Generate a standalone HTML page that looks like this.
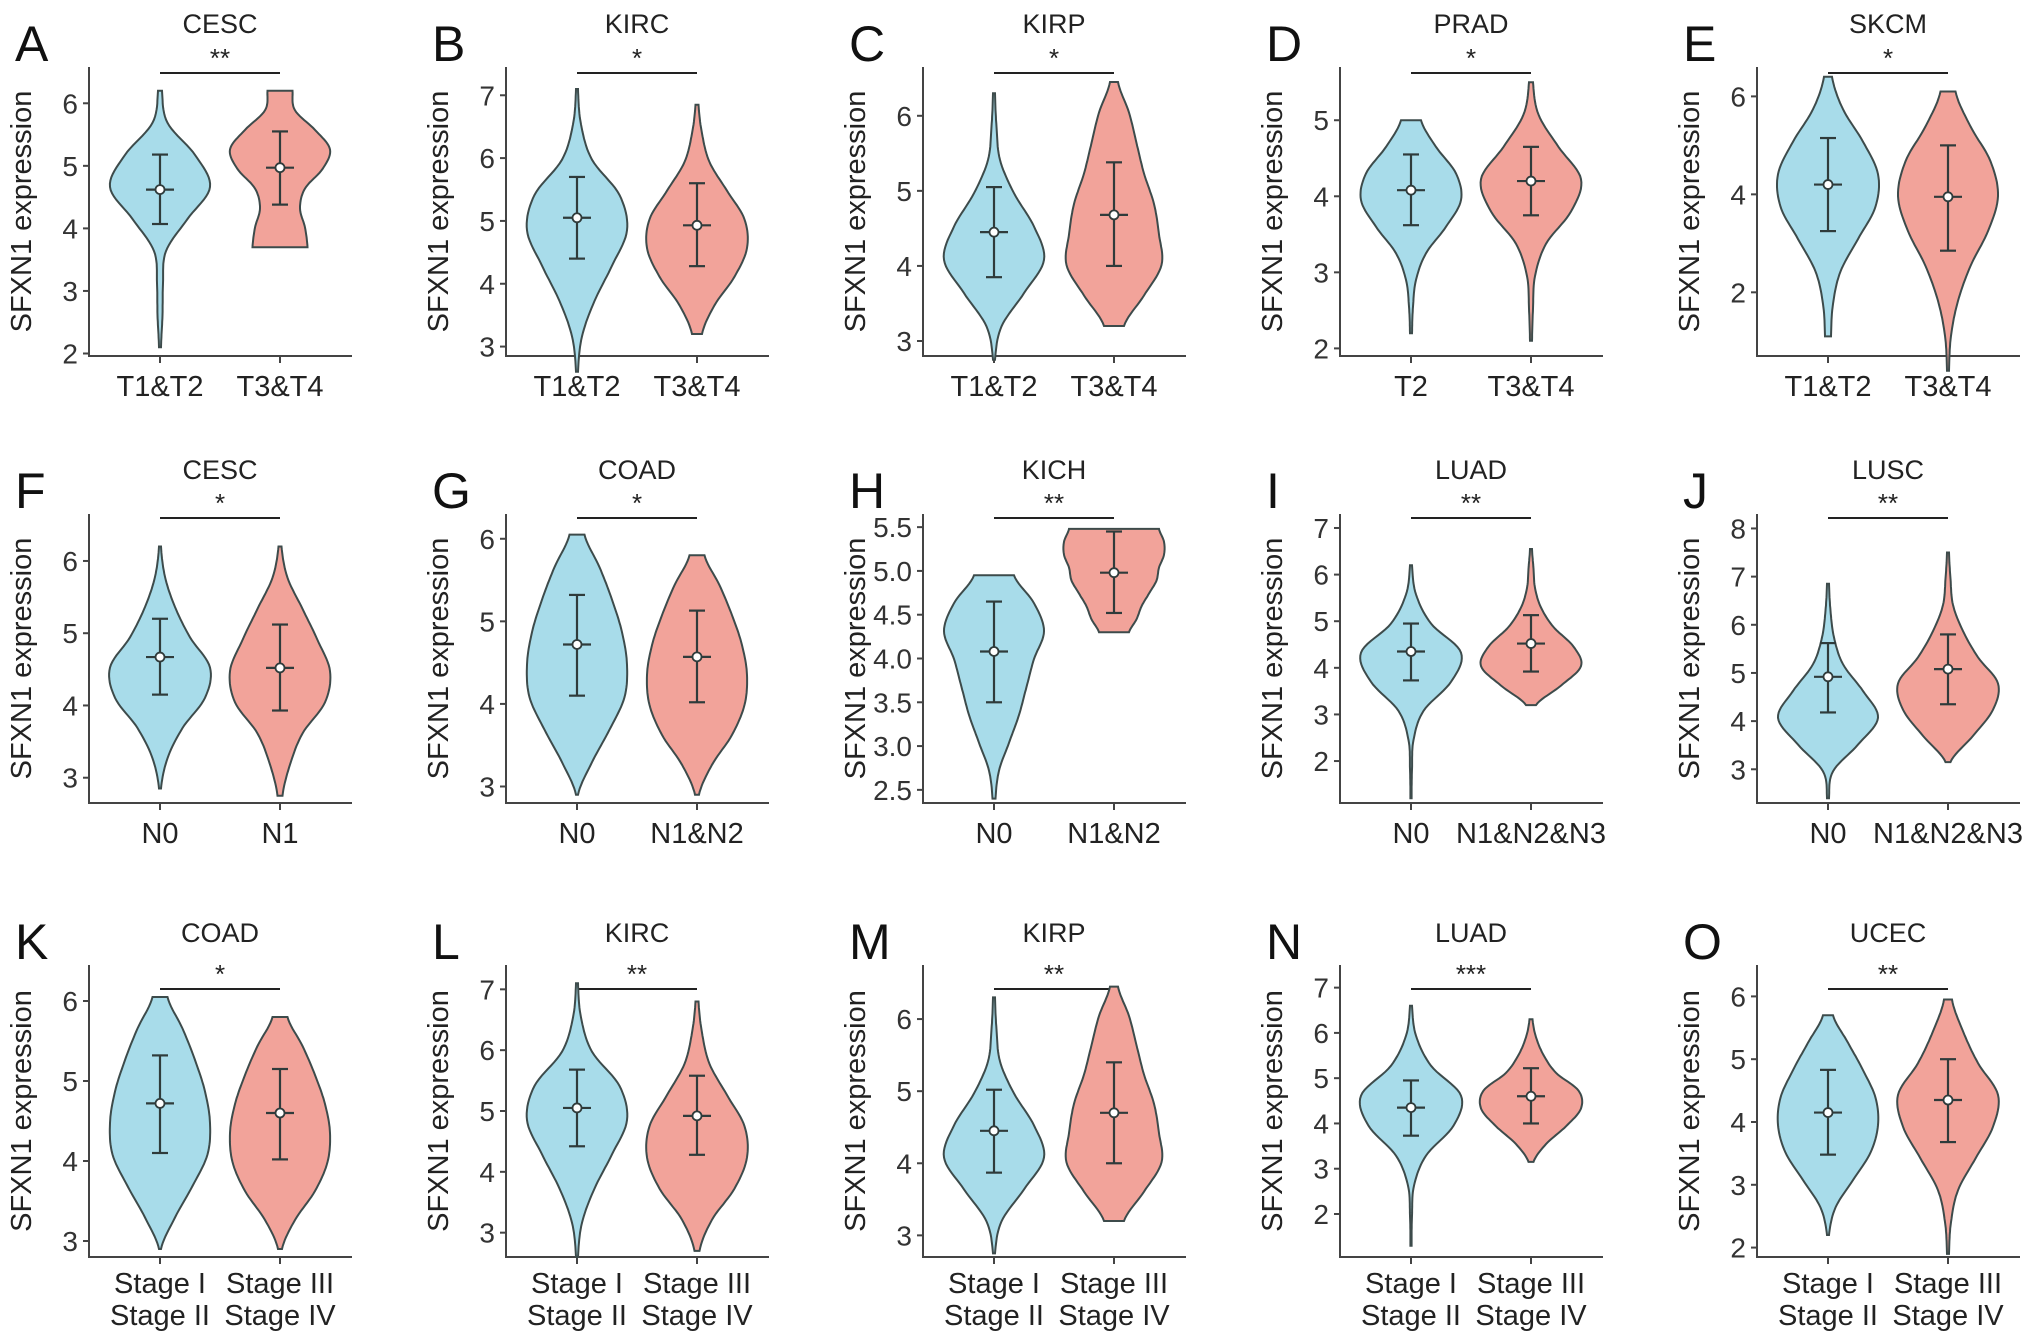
<!DOCTYPE html>
<html><head><meta charset="utf-8">
<style>
html,body{margin:0;padding:0;background:#fff;}
svg{display:block;font-family:"Liberation Sans",Arial,sans-serif;}
</style></head>
<body>
<svg id="fig" width="2032" height="1342" viewBox="0 0 2032 1342" xmlns="http://www.w3.org/2000/svg"></svg>
<script>
// ---- data ----
const panelLetters = ["A","B","C","D","E","F","G","H","I","J","K","L","M","N","O"];
const panelTitles = ["CESC","KIRC","KIRP","PRAD","SKCM","CESC","COAD","KICH","LUAD","LUSC","COAD","KIRC","KIRP","LUAD","UCEC"];
const panelStars = ["**","*","*","*","*","*","*","**","**","**","*","**","**","***","**"];
const groupLabels = [
 [["T1&T2"],["T3&T4"]],[["T1&T2"],["T3&T4"]],[["T1&T2"],["T3&T4"]],[["T2"],["T3&T4"]],[["T1&T2"],["T3&T4"]],
 [["N0"],["N1"]],[["N0"],["N1&N2"]],[["N0"],["N1&N2"]],[["N0"],["N1&N2&N3"]],[["N0"],["N1&N2&N3"]],
 [["Stage I","Stage II"],["Stage III","Stage IV"]],[["Stage I","Stage II"],["Stage III","Stage IV"]],[["Stage I","Stage II"],["Stage III","Stage IV"]],[["Stage I","Stage II"],["Stage III","Stage IV"]],[["Stage I","Stage II"],["Stage III","Stage IV"]]
];
const tickValues = [
 [2,3,4,5,6],[3,4,5,6,7],[3,4,5,6],[2,3,4,5],[2,4,6],
 [3,4,5,6],[3,4,5,6],[2.5,3,3.5,4,4.5,5,5.5],[2,3,4,5,6,7],[3,4,5,6,7,8],
 [3,4,5,6],[3,4,5,6,7],[3,4,5,6],[2,3,4,5,6,7],[2,3,4,5,6]
];
const tickLabelDecimals = [0,0,0,0,0,0,0,1,0,0,0,0,0,0,0];
const yDomainLo = [1.96,2.85,2.8,1.9,0.7,2.65,2.8,2.35,1.1,2.3,2.8,2.6,2.7,1.05,1.85];
const yDomainHi = [6.58,7.45,6.65,5.7,6.6,6.65,6.3,5.65,7.3,8.3,6.45,7.4,6.75,7.5,6.5];
// violin stats: [min, max, mean, sdLow, sdHigh]
const blueStats = [
 [2.1,6.2,4.62,4.07,5.18],[2.6,7.1,5.05,4.4,5.7],[2.75,6.3,4.45,3.85,5.05],[2.2,5.0,4.08,3.62,4.55],[1.1,6.4,4.2,3.25,5.15],
 [2.85,6.2,4.67,4.15,5.2],[2.9,6.05,4.72,4.1,5.32],[2.4,4.95,4.08,3.5,4.65],[1.2,6.2,4.35,3.73,4.95],[2.4,6.85,4.92,4.18,5.62],
 [2.9,6.05,4.72,4.1,5.32],[2.6,7.1,5.05,4.42,5.68],[2.75,6.3,4.45,3.87,5.02],[1.3,6.6,4.35,3.73,4.95],[2.2,5.7,4.15,3.48,4.83]
];
const redStats = [
 [3.7,6.2,4.97,4.38,5.55],[3.2,6.85,4.93,4.28,5.6],[3.2,6.45,4.68,4.0,5.38],[2.1,5.5,4.2,3.75,4.65],[0.4,6.1,3.95,2.85,5.0],
 [2.75,6.2,4.52,3.93,5.12],[2.9,5.8,4.57,4.02,5.13],[4.3,5.48,4.98,4.52,5.45],[3.2,6.55,4.52,3.92,5.13],[3.15,7.5,5.08,4.35,5.8],
 [2.9,5.8,4.6,4.02,5.15],[2.7,6.8,4.92,4.28,5.58],[3.2,6.45,4.7,4.0,5.4],[3.15,6.3,4.6,4.0,5.22],[1.9,5.95,4.35,3.68,5.0]
];
const blueWidths = [
 [0.02,0.05,0.06,0.12,0.55,1.0,0.7,0.15,0.04],[0.02,0.1,0.35,0.7,1.0,0.85,0.3,0.08,0.02],[0.02,0.15,0.6,1.0,0.8,0.4,0.12,0.05,0.02],
 [0.02,0.04,0.1,0.3,0.7,1.0,0.9,0.5,0.2],[0.06,0.1,0.25,0.6,0.95,1.0,0.7,0.3,0.08],
 [0.02,0.15,0.45,0.9,1.0,0.6,0.3,0.1,0.02],[0.02,0.3,0.65,0.95,1.0,0.9,0.7,0.45,0.15],[0.03,0.1,0.3,0.5,0.65,0.8,1.0,0.8,0.4],
 [0.01,0.02,0.05,0.25,0.8,1.0,0.4,0.1,0.02],[0.02,0.1,0.6,1.0,0.7,0.3,0.12,0.05,0.02],
 [0.02,0.3,0.65,0.95,1.0,0.9,0.7,0.45,0.15],[0.02,0.1,0.35,0.7,1.0,0.85,0.3,0.08,0.02],[0.02,0.15,0.6,1.0,0.8,0.4,0.12,0.05,0.02],
 [0.01,0.02,0.06,0.3,0.85,1.0,0.4,0.1,0.02],[0.02,0.15,0.5,0.85,1.0,0.95,0.7,0.4,0.1]
];
const redWidths = [
 [0.55,0.5,0.4,0.5,0.85,1.0,0.7,0.3,0.25],[0.1,0.35,0.75,1.0,0.95,0.6,0.25,0.1,0.03],[0.2,0.6,0.95,0.9,0.8,0.6,0.45,0.3,0.08],
 [0.02,0.04,0.08,0.3,0.8,1.0,0.55,0.15,0.04],[0.02,0.06,0.2,0.45,0.8,1.0,0.85,0.45,0.15],
 [0.05,0.2,0.45,0.9,1.0,0.75,0.45,0.15,0.03],[0.04,0.3,0.7,0.95,1.0,0.9,0.7,0.45,0.15],[0.3,0.45,0.55,0.7,0.85,0.9,1.0,1.0,0.9],
 [0.1,0.6,1.0,0.85,0.45,0.2,0.08,0.05,0.02],[0.05,0.5,0.9,1.0,0.6,0.3,0.1,0.05,0.02],
 [0.04,0.3,0.7,0.95,1.0,0.9,0.7,0.45,0.15],[0.05,0.3,0.75,1.0,0.95,0.6,0.25,0.1,0.03],[0.2,0.6,0.95,0.9,0.8,0.6,0.45,0.3,0.08],
 [0.05,0.3,0.7,1.0,0.95,0.5,0.25,0.1,0.03],[0.02,0.06,0.2,0.55,0.9,1.0,0.6,0.3,0.08]
];

// ---- layout ----
const NS = "http://www.w3.org/2000/svg";
const svg = document.getElementById("fig");
const colX0 = 89, colStep = 417, axisW = 263;
const rowTop = [67, 514, 965], rowBot = [356, 803, 1257];
const titleY = [33, 479, 942], starY = [67, 512, 983], barY = [73, 518, 989];
const halfMax = 50;
function mk(tag, attrs, parent){const e=document.createElementNS(NS,tag);for(const k in attrs)e.setAttribute(k,attrs[k]);(parent||svg).appendChild(e);return e;}
function txt(s, attrs, parent){const e=mk("text",attrs,parent);e.textContent=s;return e;}

function violinPath(cx, st, w, yScale){
  const n=w.length, pts=[];
  for(let i=0;i<n;i++){const v=st[0]+(st[1]-st[0])*i/(n-1);pts.push([v,w[i]]);}
  const dense=[];
  for(let i=0;i<n-1;i++){
    const p0=pts[Math.max(0,i-1)][1],p1=pts[i][1],p2=pts[i+1][1],p3=pts[Math.min(n-1,i+2)][1];
    for(let t=0;t<1;t+=0.1){
      const t2=t*t,t3=t2*t;
      let wv=0.5*((2*p1)+(-p0+p2)*t+(2*p0-5*p1+4*p2-p3)*t2+(-p0+3*p1-3*p2+p3)*t3);
      wv=Math.max(0.012,wv);
      dense.push([pts[i][0]+(pts[i+1][0]-pts[i][0])*t,wv]);
    }
  }
  dense.push([pts[n-1][0],Math.max(0.012,pts[n-1][1])]);
  let d="";
  dense.forEach((p,i)=>{d+=(i?"L":"M")+(cx+p[1]*halfMax).toFixed(1)+","+yScale(p[0]).toFixed(1);});
  for(let i=dense.length-1;i>=0;i--){const p=dense[i];d+="L"+(cx-p[1]*halfMax).toFixed(1)+","+yScale(p[0]).toFixed(1);}
  return d+"Z";
}

for(let p=0;p<15;p++){
  const r=Math.floor(p/5), c=p%5;
  const ax=colX0+colStep*c, top=rowTop[r], bot=rowBot[r];
  const lo=yDomainLo[p], hi=yDomainHi[p];
  const y=v=>bot-(v-lo)/(hi-lo)*(bot-top);
  const gx=[ax+71, ax+191];
  const g=mk("g",{});
  
  

  const L=txt(panelLetters[p],{x:ax-74,y:top-6,"font-size":50,fill:"#111"},g);
  
  
  const T=txt(panelTitles[p],{x:(gx[0]+gx[1])/2,y:titleY[r],"font-size":27,"text-anchor":"middle",fill:"#222"},g);
  
  

  const ya=mk("line",{x1:ax,y1:top,x2:ax,y2:bot+1,stroke:"#444","stroke-width":2},g);
  
  
  const xa=mk("line",{x1:ax-1,y1:bot,x2:ax+axisW,y2:bot,stroke:"#444","stroke-width":2},g);
  
  
  tickValues[p].forEach(v=>{
    mk("line",{x1:ax-6,y1:y(v),x2:ax,y2:y(v),stroke:"#444","stroke-width":2},g);
    const t=txt(v.toFixed(tickLabelDecimals[p]),{x:ax-11,y:y(v)+10,"font-size":28,"text-anchor":"end",fill:"#333"},g);
    
    
  });
  const yt=txt("SFXN1 expression",{x:0,y:0,"font-size":29,"text-anchor":"middle",fill:"#222",transform:`translate(${ax-58},${(top+bot)/2}) rotate(-90)`},g);
  
  

  [0,1].forEach(k=>{
    mk("line",{x1:gx[k],y1:bot,x2:gx[k],y2:bot+7,stroke:"#444","stroke-width":2},g);
    groupLabels[p][k].forEach((s,li)=>{
      const t=txt(s,{x:gx[k],y:bot+(r==2?36:40)+li*32,"font-size":29,"text-anchor":"middle",fill:"#222"},g);
      
      
    });
  });

  const sb=mk("line",{x1:gx[0],y1:barY[r],x2:gx[1],y2:barY[r],stroke:"#222","stroke-width":2},g);
  
  
  const ss=txt(panelStars[p],{x:(gx[0]+gx[1])/2,y:starY[r],"font-size":26,"text-anchor":"middle",fill:"#222"},g);
  
  

  [[blueStats[p],blueWidths[p],"#A8DCEA","blue"],[redStats[p],redWidths[p],"#F2A39A","red"]].forEach((v,k)=>{
    const st=v[0];
    const vp=mk("path",{d:violinPath(gx[k],st,v[1],y),fill:v[2],stroke:"#3d4b4b","stroke-width":2},g);
    
    
    const eb=mk("g",{stroke:"#2f3b3b","stroke-width":2.2},g);
    
    
    mk("line",{x1:gx[k],y1:y(st[3]),x2:gx[k],y2:y(st[4])},eb);
    mk("line",{x1:gx[k]-8,y1:y(st[3]),x2:gx[k]+8,y2:y(st[3])},eb);
    mk("line",{x1:gx[k]-8,y1:y(st[4]),x2:gx[k]+8,y2:y(st[4])},eb);
    mk("line",{x1:gx[k]-14,y1:y(st[2]),x2:gx[k]+14,y2:y(st[2])},eb);
    const m=mk("circle",{cx:gx[k],cy:y(st[2]),r:4.5,fill:"#fff",stroke:"#2f3b3b","stroke-width":1.8},g);
    
    
  });
}
</script>
</body></html>
